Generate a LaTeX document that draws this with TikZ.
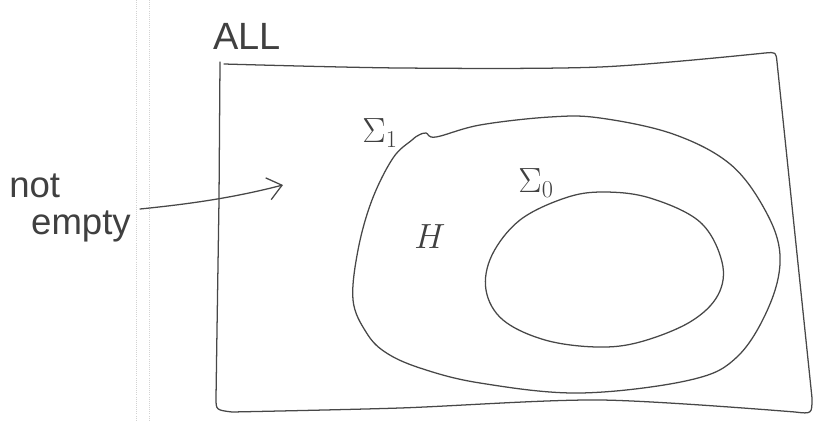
\documentclass[tikz,border=0pt]{standalone}
\usepackage{fontspec}
\setmainfont{Liberation Sans}
\usetikzlibrary{arrows.meta}
\begin{document}
\begin{tikzpicture}[
  x=0.025cm, y=-0.025cm,
  pen/.style={draw=black!72, line width=0.9pt, line cap=round, line join=round},
  hand/.style={text=black!75, inner sep=0pt, font=\fontsize{27}{29}\selectfont},
  fold/.style={draw=gray!35, line width=0.5pt, densely dotted}
]
\useasboundingbox (0,0) rectangle (820,421);
%% SCAN FOLD
\draw[fold] (136,0) -- (136,421);
\draw[fold] (149,0) -- (149,421);
%% OUTER BOX (ALL)
\draw[pen] (220,62) -- (219,200) -- (217,330) -- (216,398)
  .. controls (216,410) .. (232,412)
  plot[smooth, tension=0.5] coordinates {(232,412) (400,408) (600,400) (795,412)}
  .. controls (812,414) .. (812,398) -- (777,62)
  .. controls (776,52) .. (765,53)
  plot[smooth, tension=0.5] coordinates {(765,53) (600,67) (400,68) (224,64)};
%% SIGMA 1
\draw[pen] plot[smooth cycle, tension=0.6] coordinates {(412,140) (393,158)
  (372,200) (358,250) (353,300) (366,332) (385,352) (420,368) (480,383)
  (580,393) (690,380) (738,356) (770,304) (780,255) (765,210) (730,164)
  (673,134) (600,118) (550,117) (480,125) (436,137) (426,133) (419,135)};
%% SIGMA 0
\draw[pen] plot[smooth cycle, tension=0.6] coordinates {(603,192) (650,198)
  (700,222) (722,262) (718,295) (690,322) (640,342) (597,347) (545,340)
  (503,320) (486,290) (492,255) (520,220) (565,198)};
%% LABELS
\node[hand] (all)    at (247,36)  {ALL};
\node[hand] (sig1)   at (380,133) {$\Sigma_1$};
\node[hand] (sig0)   at (536,183) {$\Sigma_0$};
\node[hand, font=\fontsize{33}{35}\selectfont] (h) at (430,237) {$H$};
\node[hand, align=left, font=\fontsize{26}{28}\selectfont] (nonempty) at (70,208)
  {not\\[-2pt]\hspace*{0.6em}empty};
%% ARROW
\coordinate (tip) at (283,185);
\draw[pen, -{Straight Barb[length=10pt, width=16pt, line width=0.9pt]}]
  (140,209) coordinate (tail)
  .. controls (200,203) and (240,196) .. (tip);
\end{tikzpicture}
\end{document}
